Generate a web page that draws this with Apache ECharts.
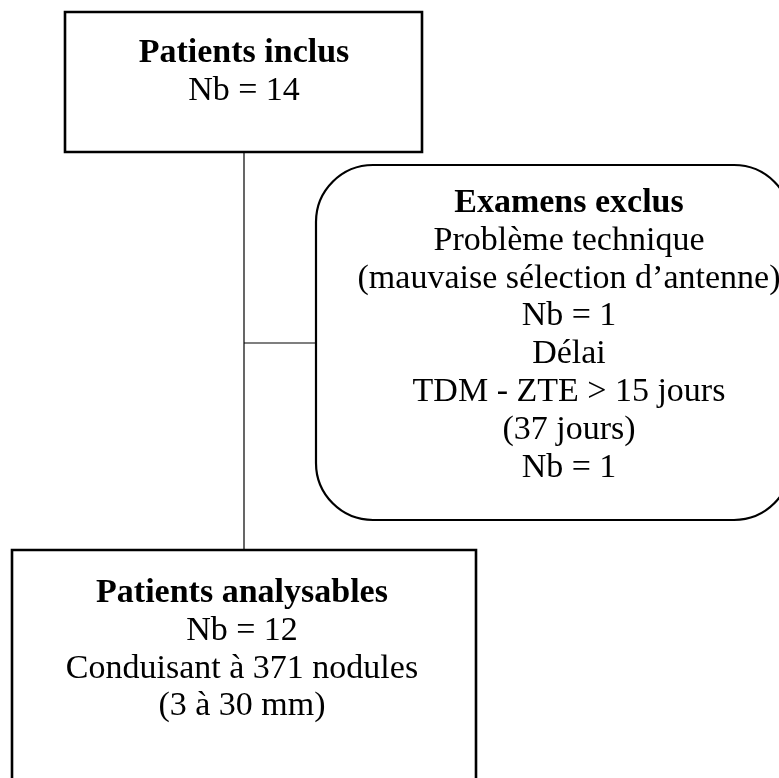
<!DOCTYPE html>
<html>
<head>
<meta charset="utf-8">
<script src="https://cdn.jsdelivr.net/npm/echarts@6/dist/echarts.min.js"></script>
<style>
  html, body { margin: 0; padding: 0; background: #fff; }
  #chart { width: 779px; height: 778px; }
</style>
</head>
<body>
<div id="chart"></div>
<script>
// texte des cases, la première ligne est en gras
const inclusLines = ['Patients inclus', 'Nb = 14'];
const exclusLines = [
  'Examens exclus',
  'Problème technique',
  '(mauvaise sélection d’antenne)',
  'Nb = 1',
  'Délai',
  'TDM - ZTE > 15 jours',
  '(37 jours)',
  'Nb = 1'
];
const analysablesLines = ['Patients analysables', 'Nb = 12', 'Conduisant à 371 nodules', '(3 à 30 mm)'];

const FONT = '"Liberation Serif", "DejaVu Serif", serif';
const FONT_SIZE = 34;
const LINE_STEP = 37.8;

const chart = echarts.init(document.getElementById('chart'), null, { renderer: 'canvas' });

// une ligne de texte = un élément text, centré sur cx
const makeLines = (lines, cx, firstBaseline) => {
  return lines.map((txt, i) => ({
    type: 'text',
    x: cx,
    y: firstBaseline + i * LINE_STEP,
    style: {
      text: txt,
      fill: '#000',
      font: (i === 0 ? 'bold ' : '') + FONT_SIZE + 'px ' + FONT,
      align: 'center',
      verticalAlign: 'bottom'
    },
    z: 10
  }));
};

const boxStyle = (w) => ({ fill: '#fff', stroke: '#000', lineWidth: w });
const lineStyle = { stroke: '#000', lineWidth: 1.2 };

const option = {
  backgroundColor: '#fff',
  animation: false,
  graphic: {
    elements: [
      // liaisons
      { type: 'line', shape: { x1: 244, y1: 152, x2: 244, y2: 550 }, style: lineStyle, z: 1 },
      { type: 'line', shape: { x1: 244, y1: 343, x2: 316, y2: 343 }, style: lineStyle, z: 1 },
      // cases
      { type: 'rect', shape: { x: 65, y: 12, width: 357, height: 140 }, style: boxStyle(2.6), z: 2 },
      { type: 'rect', shape: { x: 316, y: 165, width: 475, height: 355, r: 57 }, style: boxStyle(2.2), z: 2 },
      { type: 'rect', shape: { x: 12, y: 550, width: 464, height: 260 }, style: boxStyle(2.6), z: 2 },
      // textes (y = ligne de base + petit décalage, verticalAlign bottom)
      ...makeLines(inclusLines, 244, 62 + 8),
      ...makeLines(exclusLines, 569, 212 + 8),
      ...makeLines(analysablesLines, 242, 602 + 8)
    ]
  }
};

chart.setOption(option);
window.addEventListener('resize', () => chart.resize());
</script>
</body>
</html>
